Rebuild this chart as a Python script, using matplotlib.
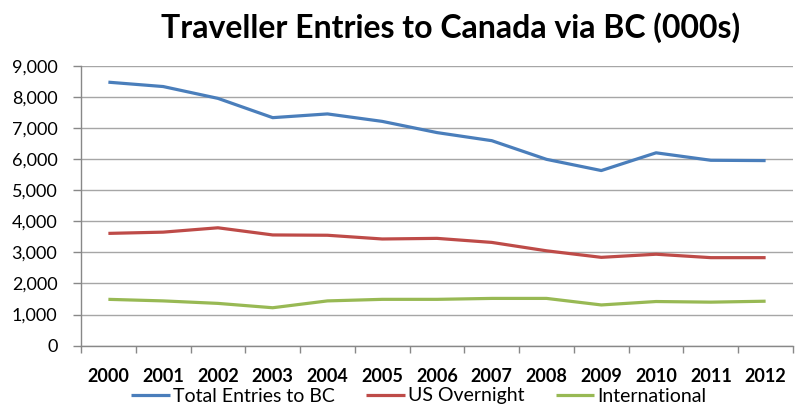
import matplotlib
matplotlib.use("Agg")
import matplotlib.pyplot as plt
from matplotlib.ticker import FuncFormatter, MultipleLocator

years = ["2000", "2001", "2002", "2003", "2004", "2005", "2006",
         "2007", "2008", "2009", "2010", "2011", "2012"]
total_entries = [8470, 8330, 7950, 7330, 7450, 7210, 6850,
                 6590, 5990, 5630, 6200, 5960, 5950]
us_overnight = [3610, 3650, 3790, 3560, 3550, 3430, 3450,
                3320, 3050, 2840, 2940, 2830, 2830]
international = [1490, 1440, 1360, 1220, 1440, 1490, 1490,
                 1520, 1520, 1310, 1420, 1400, 1430]

series = [
    ("Total Entries to BC", total_entries, "#4A7EBB"),
    ("US Overnight", us_overnight, "#BE4B48"),
    ("International", international, "#98B954"),
]

FONT = "Lato"
plt.rcParams["font.family"] = [FONT, "DejaVu Sans"]

fig = plt.figure(figsize=(7.98, 4.07), dpi=100)
ax = fig.add_axes([81 / 798, 61.3 / 407, 712 / 798, 280 / 407])

x = list(range(len(years)))
for name, vals, color in series:
    ax.plot(x, vals, color=color, lw=2.3, label=name,
            solid_capstyle="butt", solid_joinstyle="round")

ax.set_xlim(-0.5, len(years) - 0.5)
ax.set_ylim(0, 9000)
ax.yaxis.set_major_locator(MultipleLocator(1000))
ax.yaxis.set_major_formatter(FuncFormatter(lambda v, p: f"{int(v):,}"))
ax.grid(axis="y", color="#a6a6a6", lw=1)
ax.set_axisbelow(True)

ax.set_xticks(x)
ax.set_xticklabels(years, fontweight="bold", fontsize=13)
ax.set_xticks([i - 0.5 for i in range(len(years) + 1)], minor=True)
ax.tick_params(axis="x", which="major", length=0, pad=16)
ax.tick_params(axis="x", which="minor", length=5, color="#888888", width=1)
ax.tick_params(axis="y", length=6, color="#888888", width=1,
               labelsize=13, pad=11)

for side in ("top", "right"):
    ax.spines[side].set_visible(False)
for side in ("left", "bottom"):
    ax.spines[side].set_color("#888888")
    ax.spines[side].set_linewidth(1)

fig.text(451 / 798, 1 - 28 / 407, "Traveller Entries to Canada via BC (000s)",
         ha="center", va="center", fontsize=23, fontweight="bold")

leg = fig.legend(loc="center", bbox_to_anchor=(419 / 798, 1 - 396 / 407),
                 ncol=3, frameon=False, fontsize=14, handlelength=2.0,
                 handletextpad=0.15, columnspacing=1.6, borderpad=0)

fig.savefig("out.png", dpi=100)
